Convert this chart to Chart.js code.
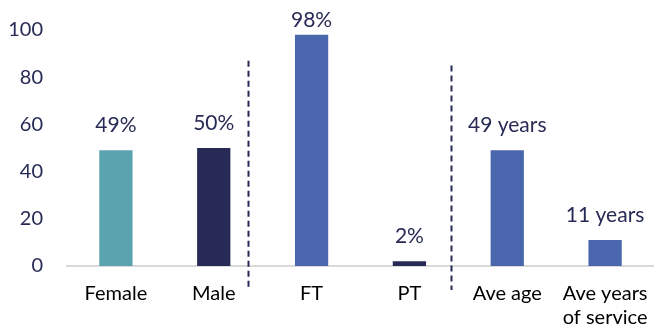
<!DOCTYPE html>
<html lang="en">
<head>
    <meta charset="UTF-8">
    <title>Workforce profile</title>
    <script src="https://cdn.jsdelivr.net/npm/chart.js"></script>
    <style>
        body {
            margin: 0;
            background: #ffffff;
        }
        #wrap {
            width: 654px;
            height: 334px;
        }
    </style>
</head>
<body>
    <div id="wrap"><canvas id="profileChart"></canvas></div>

    <script>
        // chart data
        const categories = ['Female', 'Male', 'FT', 'PT', 'Ave age', ['Ave years', 'of service']];
        const values = [49, 50, 98, 2, 49, 11];
        const valueLabels = ['49%', '50%', '98%', '2%', '49 years', '11 years'];
        const barColors = ['#5ba3af', '#272a55', '#4a67ad', '#272a55', '#4a67ad', '#4a67ad'];
        const yTicks = [0, 20, 40, 60, 80, 100];

        const NAVY = '#272a55';
        const FONT = 'Lato, "Open Sans", sans-serif';

        // value labels drawn above each bar
        const barLabels = {
            id: 'barLabels',
            afterDatasetsDraw(chart) {
                const ctx = chart.ctx;
                const meta = chart.getDatasetMeta(0);
                ctx.save();
                ctx.font = '21px ' + FONT;
                ctx.fillStyle = NAVY;
                ctx.textAlign = 'center';
                ctx.textBaseline = 'middle';
                meta.data.forEach((bar, i) => {
                    const y = Math.max(bar.y - 25, 20);
                    ctx.fillText(valueLabels[i], bar.x, y);
                });
                ctx.restore();
            }
        };

        // dashed group separators
        const separators = {
            id: 'separators',
            afterDatasetsDraw(chart, args, opts) {
                const ctx = chart.ctx;
                const x = chart.scales.x;
                const y = chart.scales.y;
                const step = x.getPixelForValue(1) - x.getPixelForValue(0);
                ctx.save();
                ctx.strokeStyle = NAVY;
                ctx.lineWidth = 2;
                ctx.setLineDash([6, 4]);
                opts.lines.forEach(l => {
                    const px = Math.round(x.getPixelForValue(Math.floor(l.at)) + (l.at % 1) * step) + 0.5;
                    ctx.beginPath();
                    ctx.moveTo(px, y.getPixelForValue(l.top));
                    ctx.lineTo(px, y.getPixelForValue(0) + 24);
                    ctx.stroke();
                });
                ctx.restore();
            }
        };

        new Chart(document.getElementById('profileChart'), {
            type: 'bar',
            data: {
                labels: categories,
                datasets: [{
                    data: values,
                    backgroundColor: barColors,
                    barPercentage: 0.34,
                    categoryPercentage: 1.0
                }]
            },
            options: {
                responsive: true,
                maintainAspectRatio: false,
                animation: false,
                layout: {
                    padding: { top: 30, right: -6, bottom: 0, left: 0 }
                },
                plugins: {
                    legend: { display: false },
                    tooltip: { enabled: false },
                    separators: {
                        lines: [{ at: 1.35, top: 87 }, { at: 3.43, top: 85 }]
                    }
                },
                scales: {
                    x: {
                        afterFit(scale) {
                            scale.height = 68;
                            scale.paddingLeft = 0;
                            scale.paddingRight = 0;
                        },
                        grid: { display: false, drawTicks: false },
                        border: { display: true, color: '#d9d9d9', width: 2 },
                        ticks: {
                            color: '#000000',
                            font: { family: FONT, size: 20, lineHeight: 1.2 },
                            padding: 16,
                            maxRotation: 0
                        }
                    },
                    y: {
                        min: 0,
                        max: 100,
                        afterFit(scale) {
                            scale.width = 67;
                            scale.paddingTop = 0;
                            scale.paddingBottom = 0;
                        },
                        afterBuildTicks(scale) { scale.ticks = yTicks.map(v => ({ value: v })); },
                        grid: { display: false, drawTicks: false },
                        border: { display: false },
                        ticks: {
                            color: NAVY,
                            font: { family: FONT, size: 20 },
                            padding: 24
                        }
                    }
                }
            },
            plugins: [barLabels, separators]
        });
    </script>
</body>
</html>
